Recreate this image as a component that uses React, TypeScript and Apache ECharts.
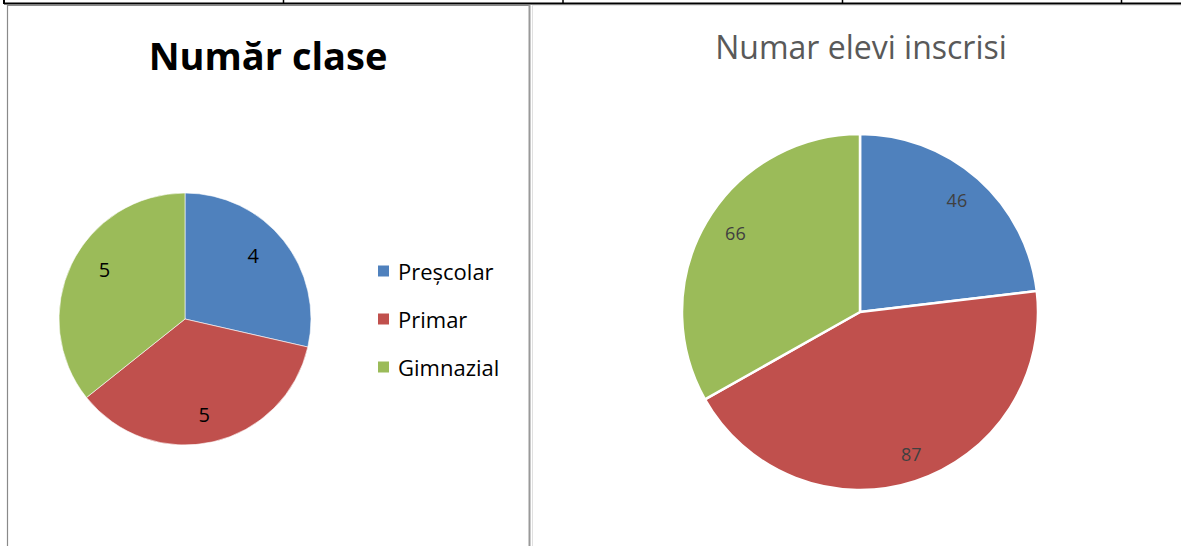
import React, { useEffect, useRef } from "react";
import * as echarts from "echarts";

const categories = ["Preșcolar", "Primar", "Gimnazial"];
const classCounts = [4, 5, 5];
const studentCounts = [46, 87, 66];
const colors = ["#4F81BD", "#C0504D", "#9BBB59"];
const leftTitle = "Număr clase";
const rightTitle = "Numar elevi inscrisi";

const FONT = "'Open Sans', Lato, sans-serif";

const leftLabelNudge = [[-6, -4], [-2, 3], [5, -8]];
const rightLabelNudge = [[-2, -1], [5, 0], [4, -4]];

export default function App() {
  const ref = useRef<HTMLDivElement>(null);
  useEffect(() => {
    document.body.style.margin = "0";
    const chart = echarts.init(ref.current!, null, { renderer: "svg" });
    const leftData = categories.map((n, i) => ({ name: n, value: classCounts[i], itemStyle: { color: colors[i] } }));
    const rightData = categories.map((n, i) => ({ name: n, value: studentCounts[i], itemStyle: { color: colors[i] } }));
    const LR = 126;
    const RR = 178;
    chart.setOption({
      animation: false,
      backgroundColor: "#ffffff",
      title: [
        {
          text: leftTitle,
          left: 268,
          top: 36,
          textAlign: "center",
          padding: 0,
          textStyle: { fontFamily: FONT, fontWeight: "bold", fontSize: 38, color: "#000" },
        },
        {
          text: rightTitle,
          left: 861,
          top: 30,
          textAlign: "center",
          padding: 0,
          textStyle: { fontFamily: FONT, fontWeight: "normal", fontSize: 32, color: "#595959" },
        },
      ],
      legend: {
        data: categories,
        orient: "vertical",
        left: 376,
        top: 260,
        padding: 0,
        icon: "rect",
        itemWidth: 13,
        itemHeight: 13,
        itemGap: 26,
        selectedMode: false,
        textStyle: { fontFamily: FONT, fontSize: 22, color: "#000", padding: [0, 0, 0, 3] },
      },
      graphic: [
        { type: "line", shape: { x1: 4, y1: 3.5, x2: 1181, y2: 3.5 }, style: { stroke: "#000", lineWidth: 2 } },
        { type: "line", shape: { x1: 4, y1: 0, x2: 4, y2: 4 }, style: { stroke: "#000", lineWidth: 2 } },
        { type: "line", shape: { x1: 283.5, y1: 0, x2: 283.5, y2: 4 }, style: { stroke: "#000", lineWidth: 1.5 } },
        { type: "line", shape: { x1: 563, y1: 0, x2: 563, y2: 4 }, style: { stroke: "#000", lineWidth: 1.5 } },
        { type: "line", shape: { x1: 842.5, y1: 0, x2: 842.5, y2: 4 }, style: { stroke: "#000", lineWidth: 1.5 } },
        { type: "line", shape: { x1: 1121.5, y1: 0, x2: 1121.5, y2: 4 }, style: { stroke: "#000", lineWidth: 1.5 } },
        { type: "line", shape: { x1: 533, y1: 5.5, x2: 1181, y2: 5.5 }, style: { stroke: "#e6e6e6", lineWidth: 1 } },
        { type: "line", shape: { x1: 532.5, y1: 5, x2: 532.5, y2: 546 }, style: { stroke: "#e0e0e0", lineWidth: 1 } },
        { type: "line", shape: { x1: 7.5, y1: 5, x2: 7.5, y2: 546 }, style: { stroke: "#8a8a8a", lineWidth: 1.2 } },
        { type: "line", shape: { x1: 7, y1: 5.5, x2: 530, y2: 5.5 }, style: { stroke: "#8a8a8a", lineWidth: 1.2 } },
        { type: "line", shape: { x1: 529.5, y1: 5, x2: 529.5, y2: 546 }, style: { stroke: "#999", lineWidth: 2 } },
      ],
      series: [
        {
          type: "pie",
          center: [185, 319],
          radius: [0, LR],
          startAngle: 90,
          clockwise: true,
          silent: true,
          label: { show: false },
          labelLine: { show: false },
          itemStyle: { borderColor: "#fff", borderWidth: 0.6 },
          data: leftData,
        },
        {
          type: "pie",
          center: [185, 319],
          radius: [0, LR * 1.46],
          startAngle: 90,
          clockwise: true,
          silent: true,
          label: { show: true, position: "inside", formatter: "{c}", fontFamily: FONT, fontSize: 20, color: "#000" },
          labelLine: { show: false },
          itemStyle: { color: "rgba(0,0,0,0)", borderWidth: 0 },
          data: categories.map((n, i) => ({
            name: n + " ",
            value: classCounts[i],
            label: { offset: leftLabelNudge[i] },
          })),
          z: 3,
        },
        {
          type: "pie",
          center: [860, 312],
          radius: [0, RR],
          startAngle: 90,
          clockwise: true,
          silent: true,
          label: { show: false },
          labelLine: { show: false },
          itemStyle: { borderColor: "#fff", borderWidth: 2.5 },
          data: rightData,
        },
        {
          type: "pie",
          center: [860, 312],
          radius: [0, RR * 1.64],
          startAngle: 90,
          clockwise: true,
          silent: true,
          label: { show: true, position: "inside", formatter: "{c}", fontFamily: FONT, fontSize: 18, color: "#404040" },
          labelLine: { show: false },
          itemStyle: { color: "rgba(0,0,0,0)", borderWidth: 0 },
          data: categories.map((n, i) => ({
            name: n + "  ",
            value: studentCounts[i],
            label: { offset: rightLabelNudge[i] },
          })),
          z: 3,
        },
      ],
    });
    return () => chart.dispose();
  }, []);
  return <div ref={ref} style={{ position: "absolute", left: 0, top: 0, width: 1181, height: 546 }} />;
}
